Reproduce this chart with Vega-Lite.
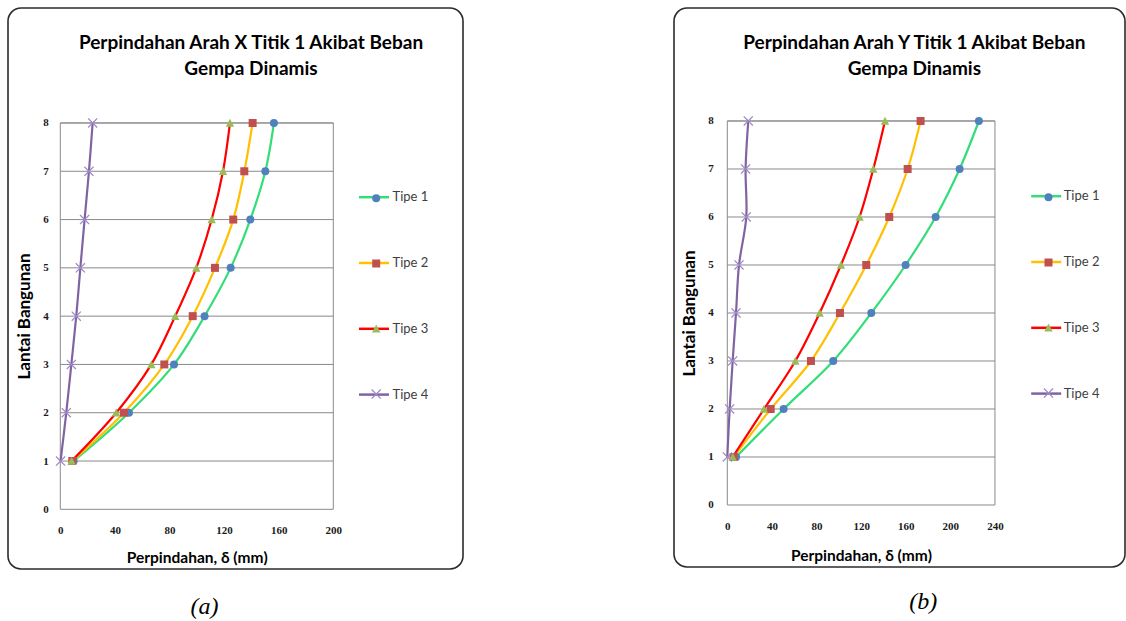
{
  "$schema": "https://vega.github.io/schema/vega-lite/v6.json",
  "background": "white",
  "padding": {"left": 7, "top": 7, "right": 0, "bottom": 0},
  "spacing": 209,
  "resolve": {"scale": {"stroke": "independent", "fill": "independent", "shape": "independent"}},
  "config": {
    "view": {"stroke": "#2b2b2b", "strokeWidth": 1.6, "cornerRadius": 13, "fill": "white"},
    "font": "Lato"
  },
  "datasets": {
    "arahX": [
      {"tipe": "Tipe 1", "lantai": 1, "delta": 9.8},
      {"tipe": "Tipe 1", "lantai": 2, "delta": 50.3},
      {"tipe": "Tipe 1", "lantai": 3, "delta": 83.3},
      {"tipe": "Tipe 1", "lantai": 4, "delta": 105.7},
      {"tipe": "Tipe 1", "lantai": 5, "delta": 124.8},
      {"tipe": "Tipe 1", "lantai": 6, "delta": 139.2},
      {"tipe": "Tipe 1", "lantai": 7, "delta": 150.2},
      {"tipe": "Tipe 1", "lantai": 8, "delta": 156.5},
      {"tipe": "Tipe 2", "lantai": 1, "delta": 8.8},
      {"tipe": "Tipe 2", "lantai": 2, "delta": 46.6},
      {"tipe": "Tipe 2", "lantai": 3, "delta": 76.2},
      {"tipe": "Tipe 2", "lantai": 4, "delta": 97.0},
      {"tipe": "Tipe 2", "lantai": 5, "delta": 113.3},
      {"tipe": "Tipe 2", "lantai": 6, "delta": 126.7},
      {"tipe": "Tipe 2", "lantai": 7, "delta": 134.8},
      {"tipe": "Tipe 2", "lantai": 8, "delta": 140.9},
      {"tipe": "Tipe 3", "lantai": 1, "delta": 8.3},
      {"tipe": "Tipe 3", "lantai": 2, "delta": 41.0},
      {"tipe": "Tipe 3", "lantai": 3, "delta": 66.7},
      {"tipe": "Tipe 3", "lantai": 4, "delta": 84.2},
      {"tipe": "Tipe 3", "lantai": 5, "delta": 99.6},
      {"tipe": "Tipe 3", "lantai": 6, "delta": 110.9},
      {"tipe": "Tipe 3", "lantai": 7, "delta": 119.2},
      {"tipe": "Tipe 3", "lantai": 8, "delta": 124.3},
      {"tipe": "Tipe 4", "lantai": 1, "delta": 0.2},
      {"tipe": "Tipe 4", "lantai": 2, "delta": 4.4},
      {"tipe": "Tipe 4", "lantai": 3, "delta": 8.1},
      {"tipe": "Tipe 4", "lantai": 4, "delta": 11.7},
      {"tipe": "Tipe 4", "lantai": 5, "delta": 14.7},
      {"tipe": "Tipe 4", "lantai": 6, "delta": 17.8},
      {"tipe": "Tipe 4", "lantai": 7, "delta": 21.0},
      {"tipe": "Tipe 4", "lantai": 8, "delta": 23.7}
    ],
    "arahY": [
      {"tipe": "Tipe 1", "lantai": 1, "delta": 7.8},
      {"tipe": "Tipe 1", "lantai": 2, "delta": 50.5},
      {"tipe": "Tipe 1", "lantai": 3, "delta": 95.0},
      {"tipe": "Tipe 1", "lantai": 4, "delta": 129.1},
      {"tipe": "Tipe 1", "lantai": 5, "delta": 159.9},
      {"tipe": "Tipe 1", "lantai": 6, "delta": 186.8},
      {"tipe": "Tipe 1", "lantai": 7, "delta": 208.3},
      {"tipe": "Tipe 1", "lantai": 8, "delta": 225.6},
      {"tipe": "Tipe 2", "lantai": 1, "delta": 5.7},
      {"tipe": "Tipe 2", "lantai": 2, "delta": 38.9},
      {"tipe": "Tipe 2", "lantai": 3, "delta": 75.0},
      {"tipe": "Tipe 2", "lantai": 4, "delta": 101.0},
      {"tipe": "Tipe 2", "lantai": 5, "delta": 124.6},
      {"tipe": "Tipe 2", "lantai": 6, "delta": 145.2},
      {"tipe": "Tipe 2", "lantai": 7, "delta": 161.7},
      {"tipe": "Tipe 2", "lantai": 8, "delta": 173.3},
      {"tipe": "Tipe 3", "lantai": 1, "delta": 4.8},
      {"tipe": "Tipe 3", "lantai": 2, "delta": 32.9},
      {"tipe": "Tipe 3", "lantai": 3, "delta": 61.0},
      {"tipe": "Tipe 3", "lantai": 4, "delta": 82.8},
      {"tipe": "Tipe 3", "lantai": 5, "delta": 101.9},
      {"tipe": "Tipe 3", "lantai": 6, "delta": 118.6},
      {"tipe": "Tipe 3", "lantai": 7, "delta": 130.9},
      {"tipe": "Tipe 3", "lantai": 8, "delta": 141.4},
      {"tipe": "Tipe 4", "lantai": 1, "delta": 0.0},
      {"tipe": "Tipe 4", "lantai": 2, "delta": 2.1},
      {"tipe": "Tipe 4", "lantai": 3, "delta": 4.8},
      {"tipe": "Tipe 4", "lantai": 4, "delta": 7.8},
      {"tipe": "Tipe 4", "lantai": 5, "delta": 10.5},
      {"tipe": "Tipe 4", "lantai": 6, "delta": 17.0},
      {"tipe": "Tipe 4", "lantai": 7, "delta": 16.4},
      {"tipe": "Tipe 4", "lantai": 8, "delta": 18.8}
    ],
    "grid": [
      {"lantai": 1}, {"lantai": 2}, {"lantai": 3}, {"lantai": 4},
      {"lantai": 5}, {"lantai": 6}, {"lantai": 7}, {"lantai": 8}
    ]
  },
  "hconcat": [
    {
      "width": 455,
      "height": 561,
      "title": {
        "text": ["Perpindahan Arah X Titik 1 Akibat Beban", "Gempa Dinamis"],
        "anchor": "middle", "frame": "group", "orient": "top",
        "offset": -71, "dx": 15.5, "lineHeight": 25.7,
        "font": "Lato", "fontSize": 19, "fontWeight": "bold", "color": "#000000"
      },
      "resolve": {"axis": {"x": "independent"}},
      "layer": [
        {
          "data": {"name": "grid"},
          "mark": {"type": "rule", "stroke": "#8a8a8a", "strokeWidth": 1},
          "encoding": {
            "x": {"datum": 0, "type": "quantitative",
                  "scale": {"domain": [-38.3, 295], "nice": false, "zero": false},
                  "axis": {"orient": "bottom", "offset": 0, "labels": false, "ticks": false, "domain": false, "grid": false,
                           "title": "(a)", "titleX": 196, "titleY": 37, "titleAlign": "center", "titleBaseline": "middle",
                           "titleFont": "Liberation Serif", "titleFontStyle": "italic", "titleFontWeight": "normal",
                           "titleFontSize": 24, "titleColor": "#000000"}},
            "x2": {"datum": 200},
            "y": {"field": "lantai", "type": "quantitative",
                  "scale": {"domain": [-1.236, 10.381], "nice": false, "zero": false}}
          }
        },
        {
          "data": {"values": [{"frame": "plot"}]},
          "mark": {"type": "rect", "fill": null, "stroke": "#8a8a8a", "strokeWidth": 1},
          "encoding": {
            "x": {"datum": 0, "type": "quantitative", "axis": null},
            "x2": {"datum": 200},
            "y": {"datum": 0, "type": "quantitative"},
            "y2": {"datum": 8}
          }
        },
        {
          "data": {"name": "arahX"},
          "mark": {"type": "line", "interpolate": "catmull-rom", "strokeWidth": 2.2},
          "encoding": {
            "x": {"field": "delta", "type": "quantitative",
                  "axis": {"orient": "bottom", "offset": -59.7, "values": [0, 40, 80, 120, 160, 200],
                           "domain": false, "ticks": false, "tickSize": 0, "grid": false, "labelPadding": 15,
                           "labelFlush": false, "labelOverlap": false,
                           "labelFont": "Liberation Serif", "labelFontWeight": "bold", "labelFontSize": 11, "labelColor": "#1a1a1a",
                           "title": "Perpindahan, δ (mm)", "titleX": 188.8, "titleY": 48, "titleAlign": "center", "titleBaseline": "middle",
                           "titleFont": "Lato", "titleFontSize": 15.5, "titleFontWeight": "bold", "titleColor": "#000000"}},
            "y": {"field": "lantai", "type": "quantitative",
                  "axis": {"orient": "left", "offset": -52.3, "values": [0, 1, 2, 3, 4, 5, 6, 7, 8],
                           "domain": false, "ticks": false, "tickSize": 0, "grid": false, "labelPadding": 12,
                           "labelFont": "Liberation Serif", "labelFontWeight": "bold", "labelFontSize": 11, "labelColor": "#1a1a1a",
                           "title": "Lantai Bangunan", "titleX": -36.3, "titleY": 308, "titleAngle": -90,
                           "titleAlign": "center", "titleBaseline": "middle",
                           "titleFont": "Lato", "titleFontSize": 17, "titleFontWeight": "bold", "titleColor": "#000000"}},
            "order": {"field": "lantai", "type": "quantitative"},
            "stroke": {"field": "tipe", "type": "nominal",
                       "scale": {"domain": ["Tipe 1", "Tipe 2", "Tipe 3", "Tipe 4"], "range": ["#33dd77", "#ffc000", "#ff0000", "#8064a2"]},
                       "legend": {"orient": "none", "direction": "vertical", "legendX": 349.5, "legendY": 172.7, "title": null,
                                  "padding": 0, "symbolType": "stroke", "symbolSize": 900, "symbolStrokeWidth": 2.5,
                                  "rowPadding": 41.8, "labelOffset": 2, "labelFont": "Lato", "labelFontSize": 13, "labelColor": "#404040"}}
          }
        },
        {
          "data": {"name": "arahX"},
          "mark": {"type": "point", "filled": true, "size": 64, "opacity": 1, "strokeWidth": 0},
          "encoding": {
            "x": {"field": "delta", "type": "quantitative", "axis": null},
            "y": {"field": "lantai", "type": "quantitative"},
            "fill": {"field": "tipe", "type": "nominal",
                     "scale": {"range": ["#4f81bd", "#c0504d", "#9bbb59", "#9f88c8"]},
                     "legend": {"orient": "none", "direction": "vertical", "legendX": 361.7, "legendY": 183.7, "title": null,
                                "padding": 0, "symbolSize": 64, "symbolStrokeWidth": 0, "rowPadding": 51.3,
                                "labelExpr": "' '", "labelFontSize": 13}},
            "shape": {"field": "tipe", "type": "nominal",
                      "scale": {"range": ["circle", "square", "M0,-1.05L1.05,0.95L-1.05,0.95Z", "M-1.25,-1.03L-1.03,-1.25L0,-0.22L1.03,-1.25L1.25,-1.03L0.22,0L1.25,1.03L1.03,1.25L0,0.22L-1.03,1.25L-1.25,1.03L-0.22,0Z"]},
                      "legend": {"orient": "none", "direction": "vertical", "legendX": 361.7, "legendY": 183.7, "title": null,
                                 "padding": 0, "symbolSize": 64, "symbolStrokeWidth": 0, "rowPadding": 51.3,
                                 "labelExpr": "' '", "labelFontSize": 13}}
          }
        }
      ]
    },
    {
      "width": 451,
      "height": 559,
      "title": {
        "text": ["Perpindahan Arah Y Titik 1 Akibat Beban", "Gempa Dinamis"],
        "anchor": "middle", "frame": "group", "orient": "top",
        "offset": -71, "dx": 14.8, "lineHeight": 25.7,
        "font": "Lato", "fontSize": 19, "fontWeight": "bold", "color": "#000000"
      },
      "resolve": {"axis": {"x": "independent"}},
      "layer": [
        {
          "data": {"name": "grid"},
          "mark": {"type": "rule", "stroke": "#8a8a8a", "strokeWidth": 1},
          "encoding": {
            "x": {"datum": 0, "type": "quantitative",
                  "scale": {"domain": [-47.8, 356.6], "nice": false, "zero": false},
                  "axis": {"orient": "bottom", "offset": 0, "labels": false, "ticks": false, "domain": false, "grid": false,
                           "title": "(b)", "titleX": 248.7, "titleY": 34, "titleAlign": "center", "titleBaseline": "middle",
                           "titleFont": "Liberation Serif", "titleFontStyle": "italic", "titleFontWeight": "normal",
                           "titleFontSize": 24, "titleColor": "#000000"}},
            "x2": {"datum": 240},
            "y": {"field": "lantai", "type": "quantitative",
                  "scale": {"domain": [-1.292, 10.354], "nice": false, "zero": false}}
          }
        },
        {
          "data": {"values": [{"frame": "plot"}]},
          "mark": {"type": "rect", "fill": null, "stroke": "#8a8a8a", "strokeWidth": 1},
          "encoding": {
            "x": {"datum": 0, "type": "quantitative", "axis": null},
            "x2": {"datum": 240},
            "y": {"datum": 0, "type": "quantitative"},
            "y2": {"datum": 8}
          }
        },
        {
          "data": {"name": "arahY"},
          "mark": {"type": "line", "interpolate": "catmull-rom", "strokeWidth": 2.2},
          "encoding": {
            "x": {"field": "delta", "type": "quantitative",
                  "axis": {"orient": "bottom", "offset": -62, "values": [0, 40, 80, 120, 160, 200, 240],
                           "domain": false, "ticks": false, "tickSize": 0, "grid": false, "labelPadding": 15,
                           "labelFlush": false, "labelOverlap": false,
                           "labelFont": "Liberation Serif", "labelFontWeight": "bold", "labelFontSize": 11, "labelColor": "#1a1a1a",
                           "title": "Perpindahan, δ (mm)", "titleX": 187, "titleY": 50, "titleAlign": "center", "titleBaseline": "middle",
                           "titleFont": "Lato", "titleFontSize": 15.5, "titleFontWeight": "bold", "titleColor": "#000000"}},
            "y": {"field": "lantai", "type": "quantitative",
                  "axis": {"orient": "left", "offset": -53.3, "values": [0, 1, 2, 3, 4, 5, 6, 7, 8],
                           "domain": false, "ticks": false, "tickSize": 0, "grid": false, "labelPadding": 14,
                           "labelFont": "Liberation Serif", "labelFontWeight": "bold", "labelFontSize": 11, "labelColor": "#1a1a1a",
                           "title": "Lantai Bangunan", "titleX": -38.3, "titleY": 305, "titleAngle": -90,
                           "titleAlign": "center", "titleBaseline": "middle",
                           "titleFont": "Lato", "titleFontSize": 17, "titleFontWeight": "bold", "titleColor": "#000000"}},
            "order": {"field": "lantai", "type": "quantitative"},
            "stroke": {"field": "tipe", "type": "nominal",
                       "scale": {"domain": ["Tipe 1", "Tipe 2", "Tipe 3", "Tipe 4"], "range": ["#33dd77", "#ffc000", "#ff0000", "#8064a2"]},
                       "legend": {"orient": "none", "direction": "vertical", "legendX": 355.7, "legendY": 171.7, "title": null,
                                  "padding": 0, "symbolType": "stroke", "symbolSize": 900, "symbolStrokeWidth": 2.5,
                                  "rowPadding": 41.8, "labelOffset": 1, "labelFont": "Lato", "labelFontSize": 13, "labelColor": "#404040"}}
          }
        },
        {
          "data": {"name": "arahY"},
          "mark": {"type": "point", "filled": true, "size": 64, "opacity": 1, "strokeWidth": 0},
          "encoding": {
            "x": {"field": "delta", "type": "quantitative", "axis": null},
            "y": {"field": "lantai", "type": "quantitative"},
            "fill": {"field": "tipe", "type": "nominal",
                     "scale": {"range": ["#4f81bd", "#c0504d", "#9bbb59", "#9f88c8"]},
                     "legend": {"orient": "none", "direction": "vertical", "legendX": 368, "legendY": 182.7, "title": null,
                                "padding": 0, "symbolSize": 64, "symbolStrokeWidth": 0, "rowPadding": 51.3,
                                "labelExpr": "' '", "labelFontSize": 13}},
            "shape": {"field": "tipe", "type": "nominal",
                      "scale": {"range": ["circle", "square", "M0,-1.05L1.05,0.95L-1.05,0.95Z", "M-1.25,-1.03L-1.03,-1.25L0,-0.22L1.03,-1.25L1.25,-1.03L0.22,0L1.25,1.03L1.03,1.25L0,0.22L-1.03,1.25L-1.25,1.03L-0.22,0Z"]},
                      "legend": {"orient": "none", "direction": "vertical", "legendX": 368, "legendY": 182.7, "title": null,
                                 "padding": 0, "symbolSize": 64, "symbolStrokeWidth": 0, "rowPadding": 51.3,
                                 "labelExpr": "' '", "labelFontSize": 13}}
          }
        }
      ]
    }
  ]
}
